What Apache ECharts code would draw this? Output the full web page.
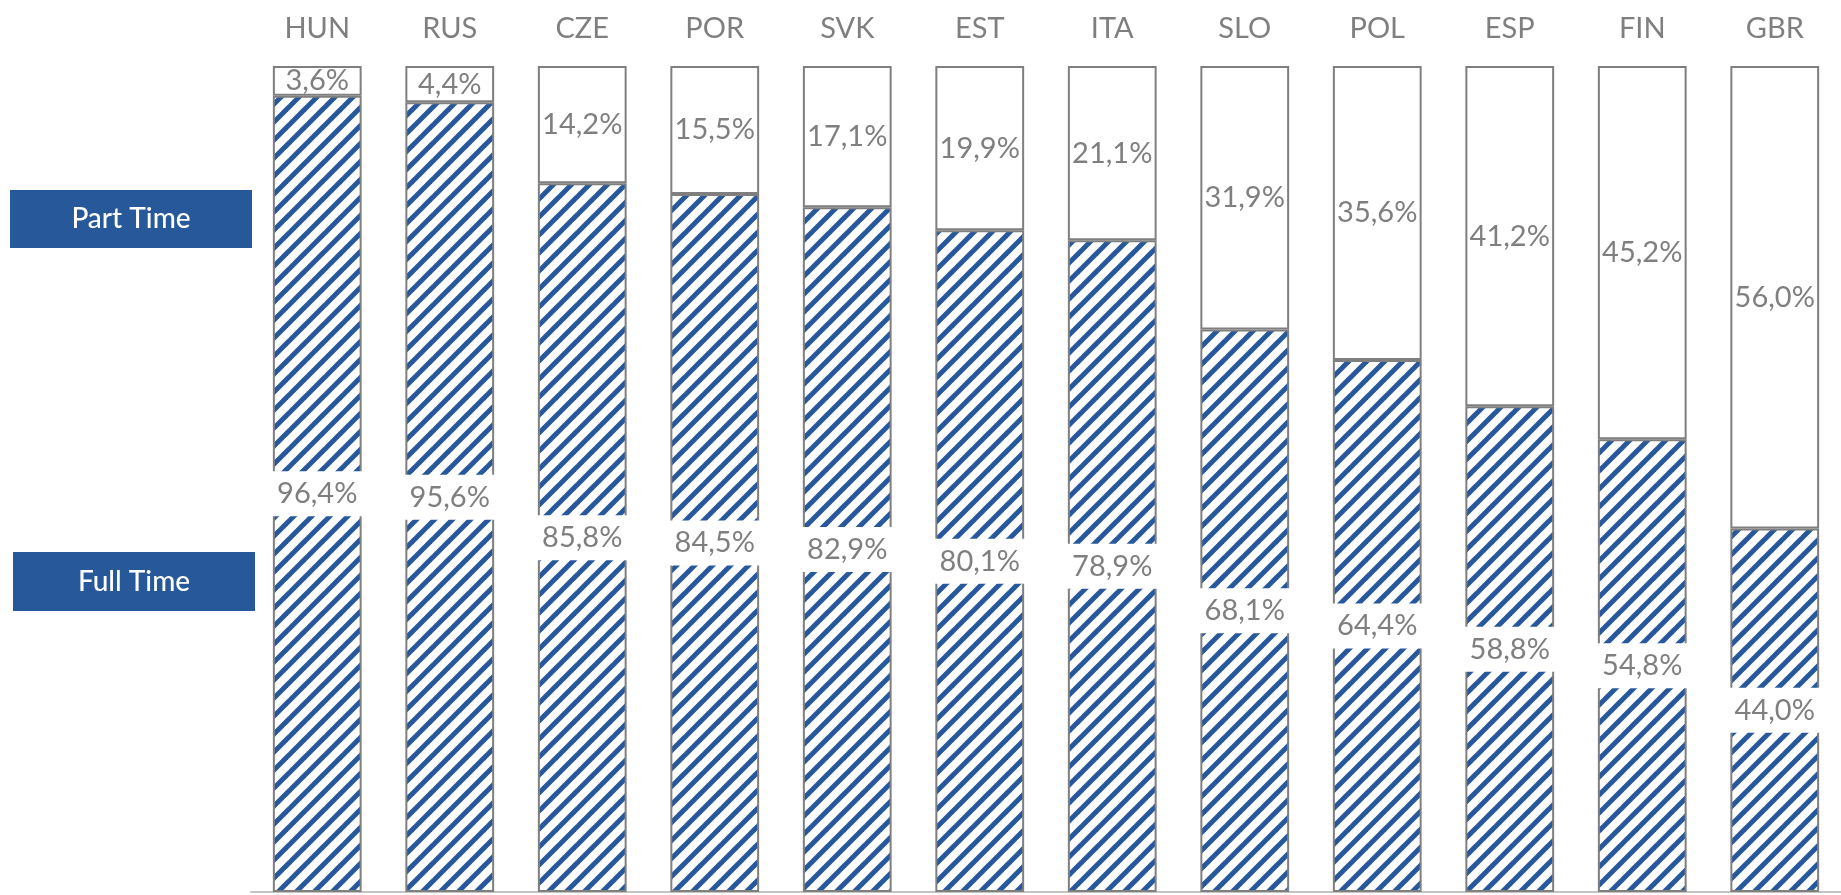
<!DOCTYPE html>
<html>
<head>
<meta charset="utf-8">
<title>Full Time vs Part Time</title>
<script src="https://cdn.jsdelivr.net/npm/echarts@6/dist/echarts.min.js"></script>
<style>
  html, body { margin: 0; padding: 0; background: #ffffff; }
  #chart { width: 1841px; height: 895px; }
</style>
</head>
<body>
<div id="chart"></div>
<script>
// Countries, ordered by share of full-time employment
const countries = ['HUN', 'RUS', 'CZE', 'POR', 'SVK', 'EST', 'ITA', 'SLO', 'POL', 'ESP', 'FIN', 'GBR'];
const fullTime = [96.4, 95.6, 85.8, 84.5, 82.9, 80.1, 78.9, 68.1, 64.4, 58.8, 54.8, 44.0];
const partTime = [3.6, 4.4, 14.2, 15.5, 17.1, 19.9, 21.1, 31.9, 35.6, 41.2, 45.2, 56.0];
const legendNames = ['Part Time', 'Full Time'];

const BLUE = '#27589b';
const GREY = '#7f7f7f';
const FONT = 'Lato, "DejaVu Sans", sans-serif';

// Diagonal hatch tile for the full-time segments
function makeHatch() {
  const s = 18;
  const c = document.createElement('canvas');
  c.width = s; c.height = s;
  const g = c.getContext('2d');
  g.fillStyle = '#ffffff';
  g.fillRect(0, 0, s, s);
  g.strokeStyle = BLUE;
  g.lineWidth = 5;
  g.lineCap = 'square';
  for (let x0 = -s; x0 <= s; x0 += s) {
    g.beginPath();
    g.moveTo(x0, s);
    g.lineTo(x0 + s, 0);
    g.stroke();
  }
  return c;
}

const fmt = v => v.toFixed(1).replace('.', ',') + '%';

const chart = echarts.init(document.getElementById('chart'), null, { renderer: 'canvas' });

// Legend badge: filled box with centred caption
function badge(x, y, w, h, text) {
  return {
    type: 'group',
    x: x, y: y,
    children: [
      { type: 'rect', shape: { x: 0, y: 0, width: w, height: h }, style: { fill: '#26589a' } },
      {
        type: 'text', x: w / 2, y: h / 2,
        style: { text: text, fill: '#ffffff', font: '500 28px ' + FONT, align: 'center', verticalAlign: 'middle' }
      }
    ]
  };
}

const option = {
  backgroundColor: '#ffffff',
  animation: false,
  grid: { left: 251, top: 66, width: 1595, bottom: 3, containLabel: false },
  xAxis: [
    {
      type: 'category',
      data: countries,
      position: 'top',
      axisLine: { show: false },
      axisTick: { show: false },
      axisLabel: { color: GREY, fontSize: 29, fontFamily: FONT, margin: 23 }
    },
    {
      type: 'category',
      data: countries,
      position: 'bottom',
      axisLine: { show: true, lineStyle: { color: '#c4c4c4', width: 2 } },
      axisTick: { show: false },
      axisLabel: { show: false }
    }
  ],
  yAxis: { type: 'value', min: 0, max: 100, show: false, splitLine: { show: false } },
  series: [
    {
      name: legendNames[1],
      type: 'bar',
      stack: 'total',
      data: fullTime,
      barWidth: '67%',
      itemStyle: {
        color: { image: makeHatch(), repeat: 'repeat' },
        borderColor: GREY,
        borderWidth: 2
      },
      label: {
        show: true,
        position: 'inside',
        formatter: p => fmt(p.value),
        color: GREY,
        fontSize: 29,
        fontFamily: FONT,
        backgroundColor: '#ffffff',
        padding: [8, 6]
      },
      z: 2
    },
    {
      name: legendNames[0],
      type: 'bar',
      stack: 'total',
      data: partTime,
      barWidth: '67%',
      itemStyle: { color: '#ffffff', borderColor: GREY, borderWidth: 2 },
      label: {
        show: true,
        position: 'inside',
        formatter: p => fmt(p.value),
        color: GREY,
        fontSize: 29,
        fontFamily: FONT
      },
      z: 2
    }
  ],
  graphic: [
    badge(10, 190, 242, 58, legendNames[0]),
    badge(13, 552, 242, 59, legendNames[1])
  ]
};

chart.setOption(option);
</script>
</body>
</html>
